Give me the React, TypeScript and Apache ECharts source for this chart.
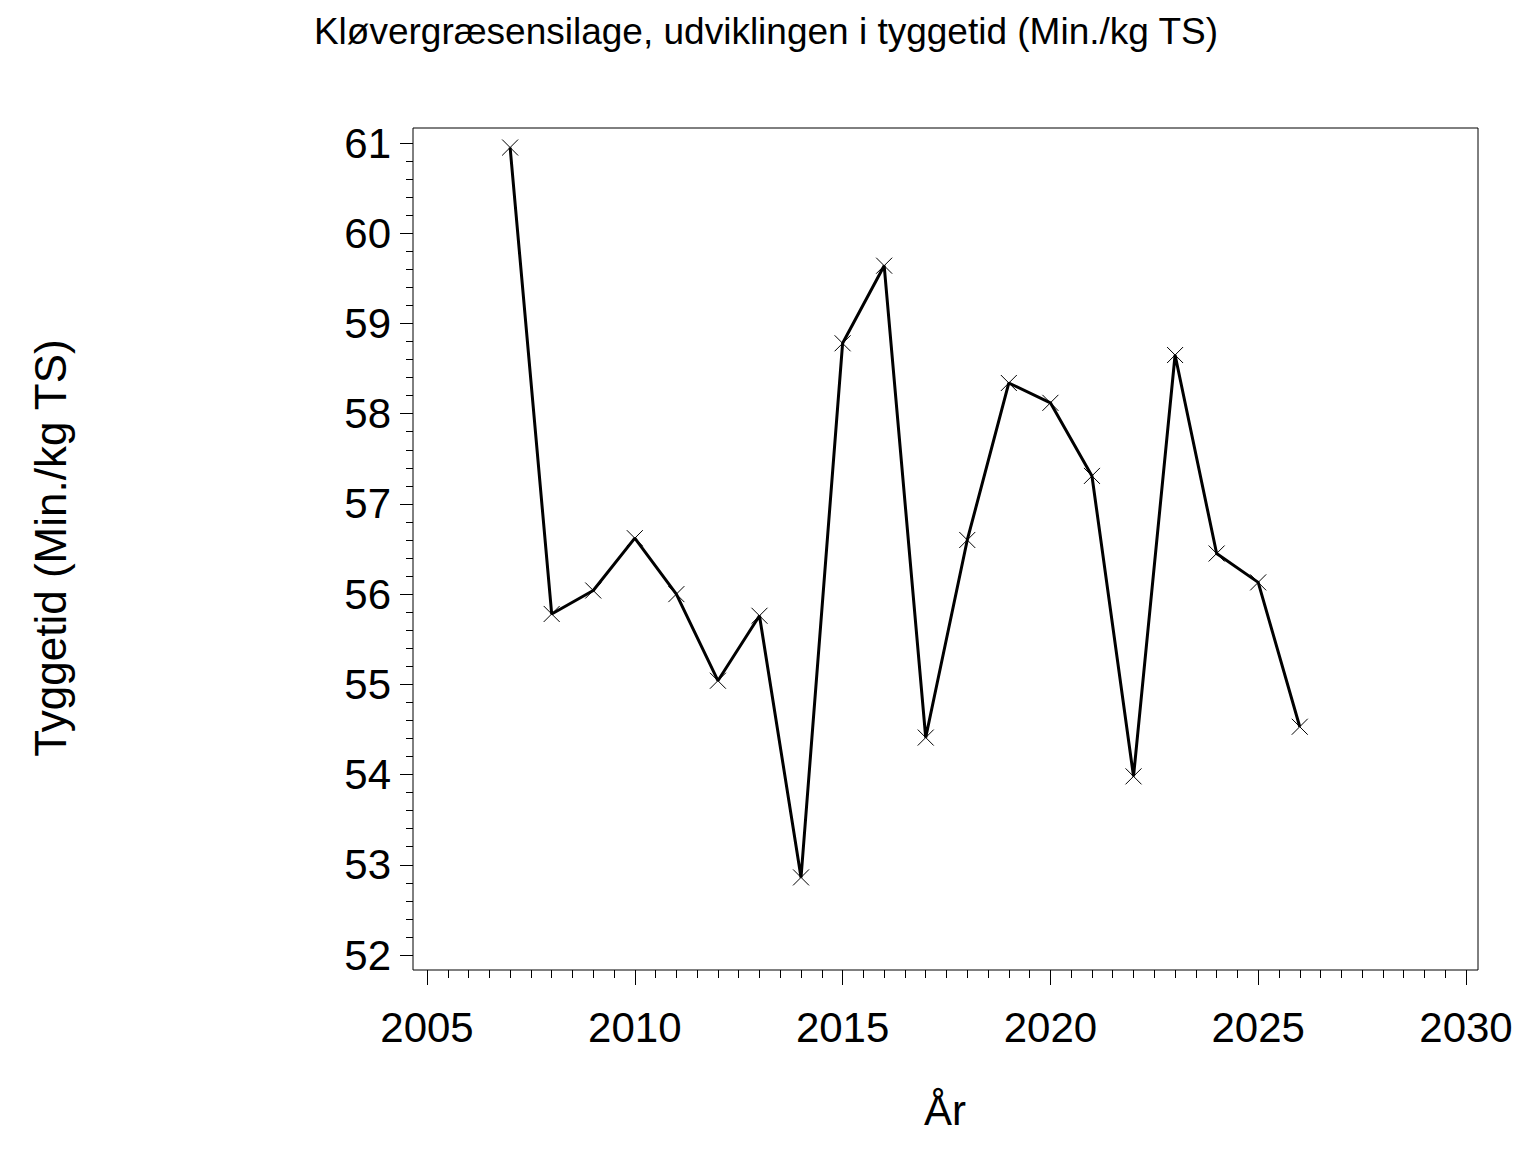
import React, { useEffect, useRef } from "react";
import * as echarts from "echarts";

const years = [2007, 2008, 2009, 2010, 2011, 2012, 2013, 2014, 2015, 2016, 2017, 2018, 2019, 2020, 2021, 2022, 2023, 2024, 2025, 2026];
const chewingTime = [60.95, 55.78, 56.04, 56.62, 56.0, 55.04, 55.76, 52.86, 58.78, 59.64, 54.41, 56.6, 58.34, 58.12, 57.31, 53.98, 58.65, 56.45, 56.13, 54.53];

const titleText = "Kløvergræsensilage, udviklingen i tyggetid (Min./kg TS)";
const yAxisTitle = "Tyggetid (Min./kg TS)";
const xAxisTitle = "År";

const FONT = "'Liberation Sans', Arial, Helvetica, sans-serif";

export default function App() {
  const ref = useRef<HTMLDivElement>(null);
  useEffect(() => {
    if (!ref.current) return;
    const chart = echarts.init(ref.current, undefined, { renderer: "svg" });
    const data = years.map((y, i) => [y, chewingTime[i]]);
    chart.setOption({
      animation: false,
      backgroundColor: "#fff",
      textStyle: { fontFamily: FONT },
      grid: [
        { left: 413, right: 58, top: 128, bottom: 182, show: true, borderColor: "#000", borderWidth: 1, backgroundColor: "transparent" },
        { left: 427, right: 70, top: 143, bottom: 197 },
      ],
      xAxis: [
        { type: "value", gridIndex: 0, show: false, min: 0, max: 1 },
        {
          type: "value",
          gridIndex: 1,
          min: 2005,
          max: 2030,
          interval: 5,
          offset: 15,
          axisLine: { show: false },
          axisTick: { show: true, length: 15, lineStyle: { color: "#000", width: 1 } },
          minorTick: { show: true, splitNumber: 10, length: 8, lineStyle: { color: "#000", width: 1 } },
          splitLine: { show: false },
          axisLabel: { color: "#000", fontSize: 42, fontFamily: FONT, margin: 36, formatter: (v: number) => String(v) },
        },
      ],
      yAxis: [
        { type: "value", gridIndex: 0, show: false, min: 0, max: 1 },
        {
          type: "value",
          gridIndex: 1,
          min: 52,
          max: 61,
          interval: 1,
          offset: 14,
          axisLine: { show: false },
          axisTick: { show: true, length: 13, lineStyle: { color: "#000", width: 1 } },
          minorTick: { show: true, splitNumber: 5, length: 7, lineStyle: { color: "#000", width: 1 } },
          splitLine: { show: false },
          axisLabel: { color: "#000", fontSize: 42, fontFamily: FONT, margin: 22, formatter: (v: number) => String(v) },
        },
      ],
      graphic: [
        {
          type: "text",
          x: 766,
          y: 31,
          style: { text: titleText, fill: "#000", font: `37px ${FONT}`, align: "center", verticalAlign: "middle" },
        },
        {
          type: "text",
          x: 50,
          y: 548,
          rotation: Math.PI / 2,
          style: { text: yAxisTitle, fill: "#000", font: `44px ${FONT}`, align: "center", verticalAlign: "middle" },
        },
        {
          type: "text",
          x: 945,
          y: 1110,
          style: { text: xAxisTitle, fill: "#000", font: `42px ${FONT}`, align: "center", verticalAlign: "middle" },
        },
      ],
      series: [
        {
          type: "line",
          xAxisIndex: 1,
          yAxisIndex: 1,
          data,
          lineStyle: { color: "#000", width: 3 },
          symbol: "path://M0 0L16 16M16 0L0 16",
          symbolSize: 16,
          itemStyle: { color: "transparent", borderColor: "#000", borderWidth: 1 },
          z: 3,
        },
      ],
    });
    return () => chart.dispose();
  }, []);
  return <div ref={ref} style={{ position: "absolute", left: 0, top: 0, width: 1536, height: 1152 }} />;
}
